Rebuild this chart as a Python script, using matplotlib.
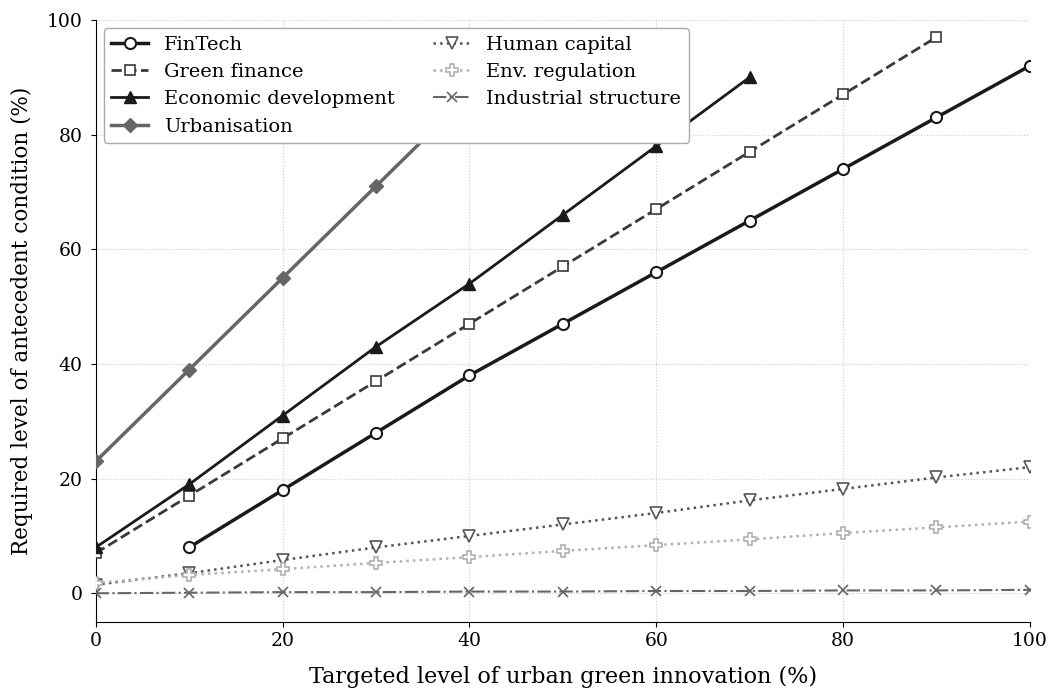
import numpy as np
import matplotlib
matplotlib.use("Agg")
import matplotlib.pyplot as plt

plt.rcParams["font.family"] = "DejaVu Serif"

x_full = [0, 10, 20, 30, 40, 50, 60, 70, 80, 90, 100]

fintech_x = [10, 20, 30, 40, 50, 60, 70, 80, 90, 100]
fintech_y = [8, 18, 28, 38, 47, 56, 65, 74, 83, 92]

green_x = [0, 10, 20, 30, 40, 50, 60, 70, 80, 90]
green_y = [7, 17, 27, 37, 47, 57, 67, 77, 87, 97]

econ_x = [0, 10, 20, 30, 40, 50, 60, 70]
econ_y = [8, 19, 31, 43, 54, 66, 78, 90]

urban_x = [0, 10, 20, 30, 40]
urban_y = [23, 39, 55, 71, 87]

human_y = [1.5, 3.5, 5.8, 8.0, 10.0, 12.0, 14.0, 16.2, 18.2, 20.2, 22.0]
env_y = [1.8, 3.2, 4.2, 5.3, 6.3, 7.4, 8.4, 9.4, 10.5, 11.5, 12.5]
indus_y = [0.0, 0.1, 0.2, 0.2, 0.3, 0.3, 0.4, 0.4, 0.5, 0.5, 0.6]

fig, ax = plt.subplots(figsize=(10.52, 6.88), dpi=100)

ax.plot(fintech_x, fintech_y, "-o", color="#1a1a1a", lw=2.5, ms=8,
        mfc="white", mec="#1a1a1a", mew=1.5, label="FinTech", zorder=5)
ax.plot(green_x, green_y, "--s", color="#3a3a3a", lw=2, ms=7,
        mfc="white", mec="#3a3a3a", mew=1.2, label="Green finance", zorder=4)
ax.plot(econ_x, econ_y, "-^", color="#1a1a1a", lw=2, ms=9,
        label="Economic development", zorder=4)
ax.plot(urban_x, urban_y, "-D", color="#666666", lw=2.5, ms=7,
        label="Urbanisation", zorder=3)
ax.plot(x_full, human_y, ":v", color="#555555", lw=1.8, ms=8,
        mfc="white", mec="#555555", mew=1.2, label="Human capital", zorder=3)
ax.plot(x_full, env_y, ":P", color="#b0b0b0", lw=1.8, ms=8,
        mfc="white", mec="#b0b0b0", mew=1.2, label="Env. regulation", zorder=3)
ax.plot(x_full, indus_y, "-.x", color="#666666", lw=1.5, ms=7,
        mew=1.2, label="Industrial structure", zorder=3)

ax.set_xlim(0, 100)
ax.set_ylim(-5, 100)
ax.set_xticks([0, 20, 40, 60, 80, 100])
ax.set_yticks([0, 20, 40, 60, 80, 100])
ax.tick_params(labelsize=13.5)
ax.tick_params(axis="y", pad=6)
ax.grid(True, linestyle=":", color="#cccccc", lw=0.8)
ax.spines["top"].set_visible(False)
ax.spines["right"].set_visible(False)

ax.set_xlabel("Targeted level of urban green innovation (%)", fontsize=16, labelpad=12)
ax.set_ylabel("Required level of antecedent condition (%)", fontsize=15.5, labelpad=10)

leg = ax.legend(ncol=2, loc="upper left", fontsize=14, framealpha=1,
                edgecolor="#aaaaaa", handlelength=1.9, columnspacing=2.0,
                labelspacing=0.48, borderaxespad=0.4)
leg.set_zorder(10)

fig.subplots_adjust(left=0.091, right=0.979, top=0.971, bottom=0.096)
fig.savefig("out.png", dpi=100)
